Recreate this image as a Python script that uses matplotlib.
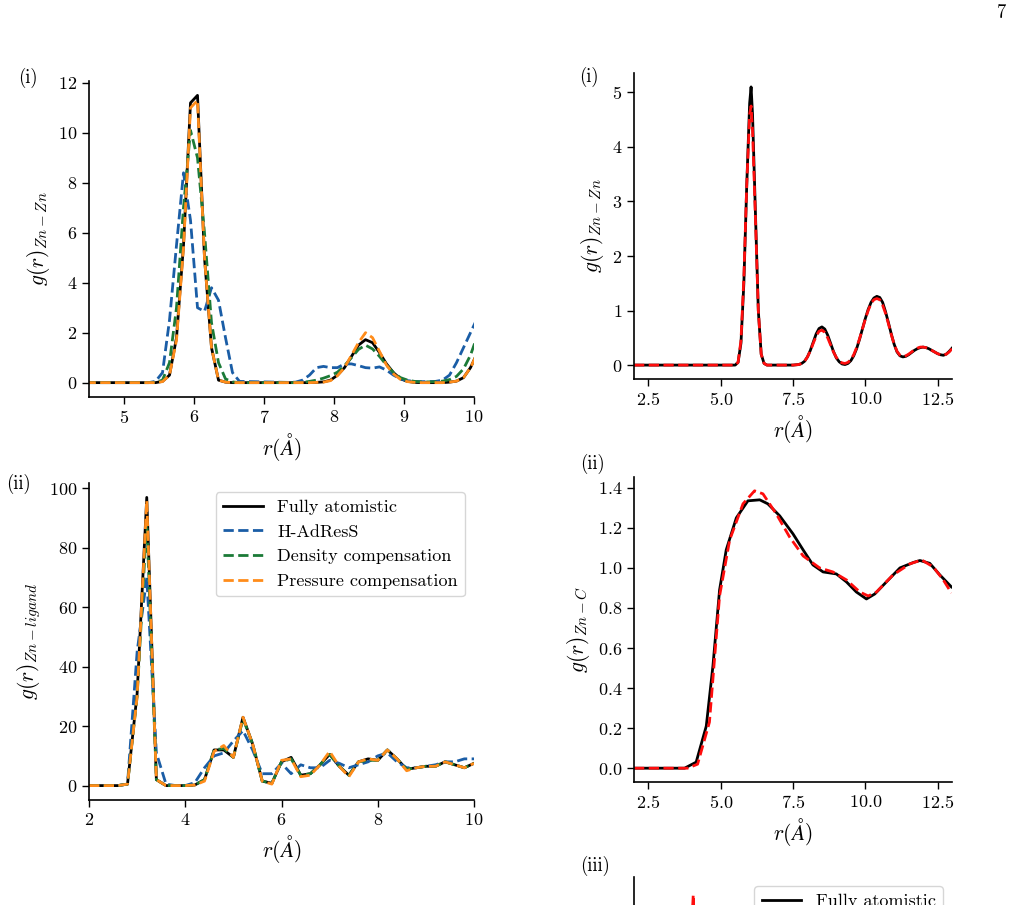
import numpy as np
import matplotlib
matplotlib.use("Agg")
import matplotlib.pyplot as plt

plt.rcParams['font.family'] = 'serif'
plt.rcParams['font.serif'] = ['cmr10', 'DejaVu Serif']
plt.rcParams['mathtext.fontset'] = 'cm'
plt.rcParams['axes.formatter.use_mathtext'] = True
plt.rcParams['axes.unicode_minus'] = False

# ---------------- left column, Zn-Zn (i) ----------------
r_znzn = [4.45, 5.35, 5.45, 5.55, 5.65, 5.75, 5.85, 5.95, 6.05, 6.15, 6.25, 6.35,
          6.45, 6.55, 6.65, 7.35, 7.45, 7.55, 7.65, 7.75, 7.85, 7.95, 8.05, 8.15,
          8.25, 8.35, 8.45, 8.55, 8.65, 8.75, 8.85, 8.95, 9.05, 9.15, 9.25, 9.35,
          9.45, 9.55, 9.65, 9.75, 9.85, 9.95, 10.05]
znzn_atom = [0, 0, 0, 0.05, 0.3, 1.8, 5.5, 11.2, 11.5, 5.0, 1.4, 0.1,
             0.02, 0, 0, 0, 0, 0, 0, 0.01, 0.03, 0.1, 0.3, 0.6,
             1.05, 1.5, 1.72, 1.6, 1.2, 0.75, 0.4, 0.15, 0.05, 0.01, 0, 0,
             0, 0, 0.02, 0.06, 0.2, 0.6, 1.2]
znzn_adress = [0, 0, 0.05, 0.4, 2.5, 5.5, 8.4, 6.5, 3.0, 2.85, 3.8, 3.3,
               1.8, 0.4, 0.05, 0.01, 0.02, 0.1, 0.3, 0.6, 0.65, 0.6, 0.6, 0.75,
               0.75, 0.68, 0.6, 0.58, 0.63, 0.5, 0.3, 0.15, 0.08, 0.05, 0.04, 0.04,
               0.05, 0.1, 0.3, 0.8, 1.4, 2.0, 2.6]
znzn_dens = [0, 0, 0.01, 0.1, 0.8, 3.0, 7.0, 10.1, 9.0, 6.0, 2.4, 0.8,
             0.15, 0.03, 0, 0, 0, 0.01, 0.05, 0.1, 0.18, 0.28, 0.42, 0.68,
             1.0, 1.33, 1.5, 1.35, 1.05, 0.7, 0.4, 0.2, 0.1, 0.05, 0.03, 0.03,
             0.04, 0.06, 0.12, 0.25, 0.55, 1.1, 1.9]
znzn_press = [0, 0, 0, 0.04, 0.3, 1.7, 5.4, 11.0, 11.3, 5.0, 1.4, 0.1,
              0.02, 0, 0, 0, 0, 0, 0, 0.01, 0.02, 0.08, 0.28, 0.6,
              1.1, 1.6, 2.0, 1.8, 1.25, 0.7, 0.35, 0.13, 0.04, 0.01, 0, 0,
              0, 0, 0.02, 0.06, 0.2, 0.6, 1.2]

# ---------------- left column, Zn-ligand (ii) ----------------
r_lig = [2.0, 2.2, 2.4, 2.6, 2.8, 3.0, 3.2, 3.4, 3.6, 3.8, 4.0, 4.2, 4.4, 4.6,
         4.8, 5.0, 5.2, 5.4, 5.6, 5.8, 6.0, 6.2, 6.4, 6.6, 6.8, 7.0, 7.2, 7.4,
         7.6, 7.8, 8.0, 8.2, 8.4, 8.6, 8.8, 9.0, 9.2, 9.4, 9.6, 9.8, 10.0]
lig_atom = [0, 0, 0, 0, 0.5, 31, 97, 2, 0, 0, 0, 0.2, 2, 12,
            12, 9.5, 23, 14, 1.5, 0.8, 8, 9.5, 3.5, 4, 7, 10.5, 6.5, 3.5,
            8, 9, 8.5, 12, 9, 5.5, 6, 6.5, 6.5, 8, 7, 6, 7.5]
lig_adress = [0, 0, 0, 0, 0.5, 45, 70, 11, 0.5, 0, 0, 1, 6, 10,
              11, 15, 18.5, 12, 4, 4, 7.5, 4, 7, 6, 6, 8.5, 7.5, 6,
              7, 8, 10, 11, 8, 6, 6, 6.5, 7, 8, 8, 9, 9]
lig_dens = [0, 0, 0, 0, 0.5, 30, 89, 2, 0, 0, 0, 0.2, 2, 12,
            12.5, 9.5, 22.5, 14, 1.5, 0.8, 8, 9, 3.5, 4, 7, 10.5, 6.5, 3.5,
            8, 8.5, 8.5, 12, 9, 5.5, 6, 6.5, 6.5, 8, 7, 6, 7.5]
lig_press = [0, 0, 0, 0, 0.5, 30, 96, 2, 0, 0, 0, 0.2, 1.5, 11.5,
             13.5, 9.5, 23, 14, 1.5, 0.5, 8.5, 9, 3, 3.5, 7, 11.5, 6.5, 3,
             8, 9, 8.5, 12, 9, 5, 6, 6.5, 6.5, 8, 7, 6, 7.5]

series_labels = ['Fully atomistic', 'H-AdResS', 'Density compensation',
                 'Pressure compensation']
series_colors = ['black', '#1a5da6', '#1b7a37', '#ff8c1a']

# ---------------- right column, Zn-Zn (i) ----------------
r_right = [2.0, 5.5, 5.6, 5.7, 5.8, 5.9, 6.0, 6.05, 6.1, 6.2, 6.3, 6.4, 6.5,
           6.6, 7.5, 7.6, 7.7, 7.8, 7.9, 8.0, 8.1, 8.2, 8.3, 8.4, 8.5, 8.6,
           8.7, 8.8, 8.9, 9.0, 9.1, 9.2, 9.3, 9.4, 9.5, 9.6, 9.7, 9.8, 9.9,
           10.0, 10.1, 10.2, 10.3, 10.4, 10.5, 10.6, 10.7, 10.8, 10.9, 11.0,
           11.1, 11.2, 11.3, 11.4, 11.5, 11.6, 11.7, 11.8, 11.9, 12.0, 12.1,
           12.2, 12.3, 12.4, 12.5, 12.6, 12.7, 12.8, 12.9, 13.0]
right_atom = [0, 0, 0.05, 0.4, 1.5, 3.3, 4.8, 5.1, 4.6, 2.8, 1.0, 0.2, 0.03,
              0, 0, 0.005, 0.01, 0.03, 0.07, 0.15, 0.27, 0.42, 0.57, 0.67, 0.7, 0.66,
              0.55, 0.4, 0.25, 0.13, 0.06, 0.02, 0.01, 0.03, 0.08, 0.17, 0.3, 0.47, 0.66,
              0.85, 1.02, 1.15, 1.23, 1.26, 1.24, 1.15, 0.98, 0.78, 0.57, 0.38,
              0.24, 0.17, 0.15, 0.16, 0.19, 0.23, 0.27, 0.3, 0.32, 0.33, 0.32,
              0.3, 0.27, 0.24, 0.21, 0.19, 0.18, 0.2, 0.25, 0.31]
right_adress = [0, 0, 0.05, 0.45, 1.6, 3.3, 4.6, 4.75, 4.3, 2.7, 1.0, 0.2, 0.03,
                0, 0, 0.005, 0.01, 0.03, 0.07, 0.15, 0.26, 0.4, 0.53, 0.62, 0.64, 0.6,
                0.5, 0.37, 0.24, 0.14, 0.07, 0.04, 0.03, 0.05, 0.1, 0.19, 0.32, 0.48, 0.66,
                0.84, 1.0, 1.13, 1.2, 1.22, 1.2, 1.1, 0.95, 0.76, 0.56, 0.38,
                0.25, 0.18, 0.16, 0.17, 0.2, 0.24, 0.28, 0.31, 0.33, 0.33, 0.32,
                0.3, 0.27, 0.24, 0.21, 0.19, 0.18, 0.2, 0.24, 0.3]

# ---------------- right column, Zn-C (ii) ----------------
r_znc = [2.0, 3.75, 4.15, 4.5, 4.73, 4.96, 5.19, 5.54, 5.94, 6.35, 6.63, 7.04,
         7.5, 7.85, 8.19, 8.54, 9.0, 9.35, 9.69, 10.04, 10.33, 10.73, 11.2,
         11.66, 11.89, 12.23, 12.58, 12.98]
znc_atom = [0, 0, 0.03, 0.21, 0.51, 0.89, 1.09, 1.25, 1.335, 1.34, 1.32, 1.26,
            1.17, 1.09, 1.015, 0.98, 0.97, 0.93, 0.88, 0.845, 0.87, 0.93, 1.0,
            1.027, 1.037, 1.023, 0.965, 0.905]
r_znc_ad = [2.0, 3.85, 4.2, 4.61, 4.96, 5.31, 5.77, 6.17, 6.46, 6.92, 7.38, 7.85,
            8.42, 8.88, 9.35, 9.81, 10.1, 10.39, 10.96, 11.54, 11.95, 12.35,
            12.7, 12.98]
znc_adress = [0, 0, 0.02, 0.23, 0.86, 1.14, 1.32, 1.385, 1.37, 1.27, 1.155, 1.06,
              1.0, 0.98, 0.94, 0.88, 0.86, 0.88, 0.965, 1.02, 1.04, 1.005,
              0.94, 0.875]

# ---------------- right column (iii), mostly below the page crop ----------------
r_iii = [2.0, 3.6, 3.8, 3.95, 4.05, 4.15, 4.3, 4.6, 5.0, 6.0, 8.0, 10.0, 13.0]
iii_atom = [0, 0, 4, 14, 17.5, 13, 6, 2.5, 1.5, 1.2, 1.0, 1.0, 1.0]
iii_adress = [0, 0, 4.5, 16, 20, 14, 6, 2.5, 1.5, 1.2, 1.0, 1.0, 1.0]

W, H = 1013, 905
fig = plt.figure(figsize=(W / 100, H / 100), dpi=100)


def px_axes(left, top, right, bottom):
    return fig.add_axes([left / W, 1 - bottom / H, (right - left) / W, (bottom - top) / H])


def style(ax):
    ax.spines['top'].set_visible(False)
    ax.spines['right'].set_visible(False)
    ax.spines['left'].set_linewidth(1.2)
    ax.spines['bottom'].set_linewidth(1.2)
    ax.tick_params(labelsize=13, length=5, width=1.0)


lw = 2.0
lab_fs = 15.5
leg_fs = 13
red = '#ff0d0d'
xl = r'$r(\AA)$'

# left top
ax1 = px_axes(89, 81, 474, 397)
for y, c, lab in zip([znzn_atom, znzn_adress, znzn_dens, znzn_press], series_colors, series_labels):
    ax1.plot(r_znzn, y, color=c, lw=lw, ls='-' if c == 'black' else '--', label=lab)
ax1.set_xlim(4.5, 10)
ax1.set_ylim(-0.575, 12.075)
ax1.set_yticks([0, 2, 4, 6, 8, 10, 12])
ax1.set_xlabel(xl, fontsize=lab_fs)
ax1.set_ylabel(r'$g(r)_{Zn-Zn}$', fontsize=lab_fs)
style(ax1)

# left bottom
ax2 = px_axes(89, 483, 474, 800)
for y, c, lab in zip([lig_atom, lig_adress, lig_dens, lig_press], series_colors, series_labels):
    ax2.plot(r_lig, y, color=c, lw=lw, ls='-' if c == 'black' else '--', label=lab)
ax2.set_xlim(2, 10)
ax2.set_ylim(-4.85, 101.85)
ax2.set_xticks([2, 4, 6, 8, 10])
ax2.set_xlabel(xl, fontsize=lab_fs)
ax2.set_ylabel(r'$g(r)_{Zn-ligand}$', fontsize=lab_fs)
ax2.legend(loc='upper right', fontsize=leg_fs, handlelength=2.2, borderaxespad=0.5)
style(ax2)

# right top
ax3 = px_axes(634, 73, 952, 379)
ax3.plot(r_right, right_atom, color='black', lw=lw)
ax3.plot(r_right, right_adress, color=red, lw=lw, ls='--')
ax3.set_xlim(2, 13)
ax3.set_xticks([2.5, 5.0, 7.5, 10.0, 12.5])
ax3.set_ylim(-0.255, 5.355)
ax3.set_xlabel(xl, fontsize=lab_fs)
ax3.set_ylabel(r'$g(r)_{Zn-Zn}$', fontsize=lab_fs)
style(ax3)

# right middle
ax4 = px_axes(634, 477, 952, 782)
ax4.plot(r_znc, znc_atom, color='black', lw=lw)
ax4.plot(r_znc_ad, znc_adress, color=red, lw=lw, ls='--')
ax4.set_xlim(2, 13)
ax4.set_xticks([2.5, 5.0, 7.5, 10.0, 12.5])
ax4.set_ylim(-0.069, 1.454)
ax4.set_yticks([0.0, 0.2, 0.4, 0.6, 0.8, 1.0, 1.2, 1.4])
ax4.set_xlabel(xl, fontsize=lab_fs)
ax4.set_ylabel(r'$g(r)_{Zn-C}$', fontsize=lab_fs)
style(ax4)

# right bottom, cut by the page edge: only its top is on the page
ax5 = px_axes(634, 877, 952, 1182)
ax5.plot(r_iii, iii_atom, color='black', lw=lw, label='Fully atomistic')
ax5.plot(r_iii, iii_adress, color=red, lw=lw, ls='--')
ax5.set_xlim(2, 13)
ax5.set_ylim(-1.0, 21.3)
ax5.legend(loc='upper right', fontsize=leg_fs, handlelength=2.2, borderaxespad=0.5)
style(ax5)
ax5.tick_params(labelleft=False, labelbottom=False, left=False, bottom=False)

# panel labels and page number
for x, y, t in [(28, 78, '(i)'), (18, 484, '(ii)'), (589, 77, '(i)'),
                (592, 464, '(ii)'), (595, 866, '(iii)')]:
    fig.text(x / W, 1 - y / H, t, fontsize=13.5, ha='center', va='center')
fig.text(1002 / W, 1 - 13 / H, '7', fontsize=13.5, ha='center', va='center')

fig.savefig('out.png', dpi=100)
